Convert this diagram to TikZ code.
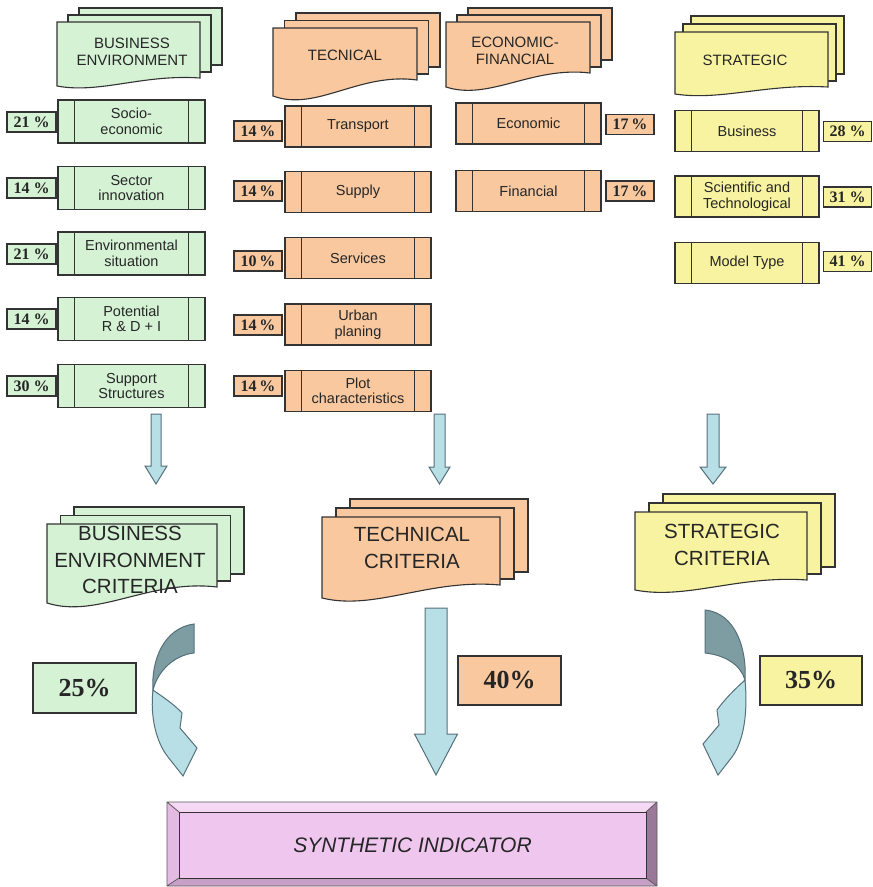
\documentclass[tikz,border=0pt]{standalone}
\usepackage{fontspec}
\setmainfont{Liberation Serif}
\setsansfont{Liberation Sans}
\definecolor{gfill}{HTML}{D5F2D5}
\definecolor{ofill}{HTML}{F9C89E}
\definecolor{yfill}{HTML}{F8F3A0}
\definecolor{pfill}{HTML}{EEC6EE}
\definecolor{linec}{HTML}{333333}
\definecolor{textc}{HTML}{262626}
\definecolor{arrfill}{HTML}{B9DFE6}
\definecolor{arrdark}{HTML}{7E9DA2}
\definecolor{arrline}{HTML}{55707A}
\definecolor{bevtop}{HTML}{F4D8F4}
\definecolor{bevleft}{HTML}{E2BAE2}
\definecolor{bevright}{HTML}{9A789A}
\definecolor{bevbot}{HTML}{C7A0C7}
% multi-document: l, t, r, b(left bottom), re(right end), dx, dy, colour
\newcommand\mdoc[8]{%
  \filldraw[docline,fill=#8] ({#1+2*#6},{#2-2*#7}) rectangle ({#3+2*#6},{#5-13});
  \filldraw[docline,fill=#8] ({#1+#6},{#2-#7}) rectangle ({#3+#6},{#5-6});
  \filldraw[docline,fill=#8] (#1,#2) -- (#3,#2) -- (#3,#5)
    .. controls ({#3-0.4*(#3-#1)},{#5-0.5*(#4-#5)}) and ({#1+0.3*(#3-#1)},{#4+(#4-#5)}) .. (#1,#4) -- cycle;
}
% item box: name, x, y, w, h, colour, text
\newcommand\ibox[7]{%
  \node[itembox,fill=#6,minimum width=#4pt,minimum height=#5pt] (#1) at (#2,#3) {#7};
  \draw[boxline] ([xshift=17pt]#1.north west) -- ([xshift=17pt]#1.south west);
  \draw[boxline] ([xshift=-17pt]#1.north east) -- ([xshift=-17pt]#1.south east);
}
% down block arrow: cx, top, head start, tip, shaft half, head half
\newcommand\darrow[6]{%
  \filldraw[arrowst] ({#1-#5},#2) -- ({#1+#5},#2) -- ({#1+#5},#3) -- ({#1+#6},#3)
    -- (#1,#4) -- ({#1-#6},#3) -- ({#1-#5},#3) -- cycle;
}
\begin{document}
\begin{tikzpicture}[x=1pt,y=-1pt,
  docline/.style={draw=linec,line width=1.1pt},
  boxline/.style={draw=linec,line width=1.3pt},
  itembox/.style={boxline,rectangle,inner sep=0pt,align=center,text=textc,font=\sffamily\fontsize{14.5}{15.5}\selectfont},
  pctbox/.style={boxline,rectangle,inner sep=0pt,text=textc,font=\rmfamily\bfseries\fontsize{16}{16}\selectfont,minimum height=20pt},
  bigpct/.style={draw=linec,line width=1.4pt,rectangle,inner sep=0pt,text=textc,font=\rmfamily\bfseries\fontsize{26}{26}\selectfont},
  hdr/.style={align=center,text=textc,font=\sffamily\fontsize{15}{17.5}\selectfont,inner sep=0pt},
  crit/.style={align=center,text=textc,font=\sffamily\fontsize{20.5}{26.5}\selectfont,inner sep=0pt},
  arrowst/.style={fill=arrfill,draw=arrline,line width=1pt,line join=miter},
  arrowdk/.style={fill=arrdark,draw=arrline,line width=1pt,line join=miter},
]
\useasboundingbox (0,0) rectangle (873,887);

% ---------- headers ----------
\mdoc{57}{22}{200}{86}{78}{11}{7}{gfill}
\node[hdr] (hbe) at (132,52) {BUSINESS\\ENVIRONMENT};
\mdoc{273}{28}{417}{96}{80}{11.5}{7.5}{ofill}
\node[hdr] (htec) at (345,55) {TECNICAL};
\mdoc{446}{22}{590}{87}{73}{11}{7}{ofill}
\node[hdr] (hecf) at (515,51) {ECONOMIC-\\FINANCIAL};
\mdoc{675}{32}{828}{94}{87}{8}{8}{yfill}
\node[hdr] (hstr) at (745,60) {STRATEGIC};

% ---------- business environment items ----------
\ibox{be1}{131.5}{121.5}{147}{43}{gfill}{Socio-\\economic}
\ibox{be2}{131.5}{188}{147}{43}{gfill}{Sector\\innovation}
\ibox{be3}{131.5}{253.5}{147}{43}{gfill}{Environmental\\situation}
\ibox{be4}{131.5}{319}{147}{43}{gfill}{Potential\\R \& D + I}
\ibox{be5}{131.5}{386}{147}{43}{gfill}{Support\\Structures}
\node[pctbox,fill=gfill,minimum width=49pt] (pbe1) at (31.5,122) {21 \%};
\node[pctbox,fill=gfill,minimum width=49pt] (pbe2) at (31.5,188) {14 \%};
\node[pctbox,fill=gfill,minimum width=49pt] (pbe3) at (31.5,254) {21 \%};
\node[pctbox,fill=gfill,minimum width=49pt] (pbe4) at (31.5,319) {14 \%};
\node[pctbox,fill=gfill,minimum width=49pt] (pbe5) at (31.5,386) {30 \%};

% ---------- technical items ----------
\ibox{t1}{358}{126.5}{146}{41}{ofill}{Transport}
\ibox{t2}{358}{192}{146}{41}{ofill}{Supply}
\ibox{t3}{358}{258}{146}{41}{ofill}{Services}
\ibox{t4}{358}{324.5}{146}{41}{ofill}{Urban\\planing}
\ibox{t5}{358}{391}{146}{41}{ofill}{Plot\\characteristics}
\node[pctbox,fill=ofill,minimum width=48pt] (pt1) at (258,131) {14\,\%};
\node[pctbox,fill=ofill,minimum width=48pt] (pt2) at (258,191) {14\,\%};
\node[pctbox,fill=ofill,minimum width=48pt] (pt3) at (258,261) {10\,\%};
\node[pctbox,fill=ofill,minimum width=48pt] (pt4) at (258,325) {14\,\%};
\node[pctbox,fill=ofill,minimum width=48pt] (pt5) at (258,386) {14\,\%};

% ---------- economic-financial items ----------
\ibox{e1}{528.5}{123.5}{145}{41}{ofill}{Economic}
\ibox{e2}{528.5}{191}{145}{41}{ofill}{Financial}
\node[pctbox,fill=ofill,minimum width=48pt] (pe1) at (630,124.5) {17\,\%};
\node[pctbox,fill=ofill,minimum width=48pt] (pe2) at (630,191) {17\,\%};

% ---------- strategic items ----------
\ibox{s1}{747}{131}{144}{41}{yfill}{Business}
\ibox{s2}{747}{196.5}{144}{41}{yfill}{Scientific and\\Technological}
\ibox{s3}{747}{263}{144}{41}{yfill}{Model Type}
\node[pctbox,fill=yfill,minimum width=48pt] (ps1) at (847.5,131.5) {28 \%};
\node[pctbox,fill=yfill,minimum width=48pt] (ps2) at (847.5,197) {31 \%};
\node[pctbox,fill=yfill,minimum width=48pt] (ps3) at (847.5,261.5) {41 \%};

% ---------- small down arrows ----------
\darrow{156}{414}{466}{484}{5}{11}
\darrow{439.5}{414}{467}{484}{5.5}{10.5}
\darrow{713}{414}{467}{484}{6}{13}

% ---------- criteria ----------
\mdoc{47}{524}{217}{603}{587}{13.5}{8.5}{gfill}
\node[crit] (cbe) at (130,560) {BUSINESS\\ENVIRONMENT\\CRITERIA};
\mdoc{322}{517}{500}{598}{585}{14}{9}{ofill}
\node[crit] (ctec) at (412,548) {TECHNICAL\\CRITERIA};
\mdoc{635}{512}{807}{590}{580}{14}{9}{yfill}
\node[crit] (cstr) at (722,545) {STRATEGIC\\CRITERIA};

% ---------- big arrows ----------
\darrow{436}{608}{734}{775}{11}{21.5}
% left curved arrow
\filldraw[arrowst] (153,690) .. controls (163,697) and (175,705) .. (182,713)
  -- (180,728) -- (197,748) -- (183,776) -- (168,757)
  .. controls (156,742) and (150,716) .. (153,690) -- cycle;
\filldraw[arrowdk] (194,624) -- (194,653) .. controls (175,655) and (158,670) .. (153,690)
  .. controls (151,660) and (164,628) .. (194,624) -- cycle;
% right curved arrow
\filldraw[arrowst] (745,680) .. controls (735,689) and (724,700) .. (717,710)
  -- (719,725) -- (703,744) -- (718,775) -- (732,757)
  .. controls (744,741) and (748,712) .. (745,680) -- cycle;
\filldraw[arrowdk] (705,610) -- (705,653) .. controls (725,655) and (741,665) .. (745,680)
  .. controls (747,650) and (736,613) .. (705,610) -- cycle;

% ---------- percentage boxes ----------
\node[bigpct,fill=gfill,minimum width=103pt,minimum height=50pt] (p25) at (84.5,688) {25\%};
\node[bigpct,fill=ofill,minimum width=103pt,minimum height=49pt] (p40) at (509.5,680.5) {40\%};
\node[bigpct,fill=yfill,minimum width=102pt,minimum height=49pt] (p35) at (811,680.5) {35\%};

% ---------- synthetic indicator ----------
\fill[bevtop] (167,802) -- (657,802) -- (646,812) -- (179,812) -- cycle;
\fill[bevleft] (167,802) -- (179,812) -- (179,878) -- (167,886) -- cycle;
\fill[bevright] (657,802) -- (657,886) -- (646,878) -- (646,812) -- cycle;
\fill[bevbot] (167,886) -- (657,886) -- (646,878) -- (179,878) -- cycle;
\draw[draw=linec!80,line width=0.8pt] (167,802) rectangle (657,886)
  (167,802) -- (179,812) (657,802) -- (646,812) (167,886) -- (179,878) (657,886) -- (646,878);
\node[draw=linec,line width=1pt,fill=pfill,minimum width=467pt,minimum height=66pt,inner sep=0pt,
  text=textc,font=\sffamily\itshape\fontsize{21}{21}\selectfont] (synth) at (412.5,845) {SYNTHETIC INDICATOR};
\end{tikzpicture}
\end{document}
